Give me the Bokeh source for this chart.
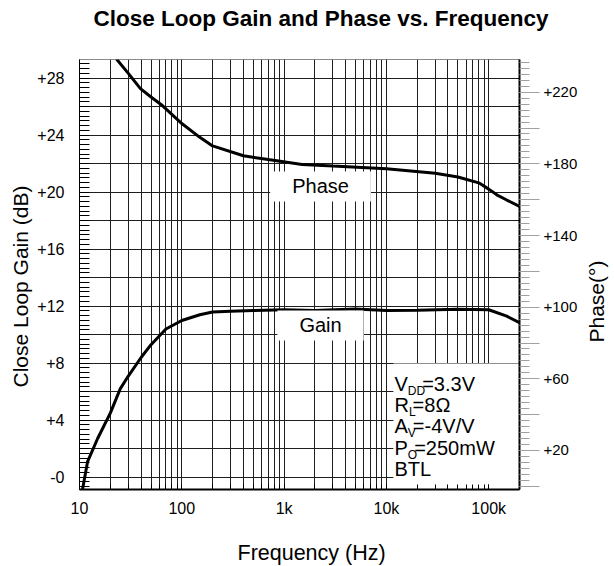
from bokeh.plotting import figure
from bokeh.layouts import row
from bokeh.models import Range1d, LinearAxis, FixedTicker, Label, BoxAnnotation, Grid, Title
from bokeh.embed import file_html
from bokeh.resources import INLINE

FONT = "Liberation Sans"

# ---------------- data ----------------
title_text = "Close Loop Gain and Phase vs. Frequency"
x_title = "Frequency (Hz)"
gain_title = "Close Loop Gain (dB)"
phase_title = "Phase(\u00b0)"

gain_freq = [10.7, 12, 15, 20, 25, 30, 40, 50, 70, 100, 150, 200, 300, 500,
             1000, 2000, 5000, 10000, 20000, 50000, 100000, 150000, 200000]
gain_db = [-0.86, 1.1, 2.7, 4.5, 6.2, 7.1, 8.4, 9.3, 10.4, 11.0, 11.4, 11.6, 11.65, 11.7,
           11.75, 11.7, 11.8, 11.7, 11.72, 11.78, 11.75, 11.3, 10.85]

phase_freq = [23, 30, 39.4, 50, 65, 100, 150, 200, 400, 700, 1500, 3000,
              10000, 30000, 50000, 80000, 100000, 120000, 150000, 200000]
phase_deg = [238.5, 230.5, 222, 217.3, 212.4, 202.5, 194.8, 190, 184.5, 182.4, 179.7, 178.8,
             177.3, 174.7, 172.7, 169.4, 165.9, 162.7, 159.8, 156.3]

x_tick_values = [10, 100, 1000, 10000, 100000]
x_tick_labels = ["10", "100", "1k", "10k", "100k"]

gain_tick_values = [0, 4, 8, 12, 16, 20, 24, 28]
gain_tick_labels = ["-0", "+4", "+8", "+12", "+16", "+20", "+24", "+28"]

phase_tick_values = [20, 60, 100, 140, 180, 220]
phase_tick_labels = ["+20", "+60", "+100", "+140", "+180", "+220"]

series_labels = ["Phase", "Gain"]

cond_main = ["V", "R", "A", "P", "BTL"]
cond_sub = ["DD", "L", "V", "O", ""]
cond_rest = ["=3.3V", "=8\u03a9", "=-4V/V", "=250mW", ""]

# ---------------- derived tick / grid positions ----------------
x_minor = [m * d for d in (10, 100, 1000, 10000, 100000) for m in range(1, 10)]
gain_grid = [2 * k for k in range(0, 15)]
gain_minor = [k / 3.0 for k in range(-2, 88)]
phase_long = [20 * k for k in range(0, 12)]
phase_minor = [k * 20 / 6.0 for k in range(0, 72)]
phase_all_labels = {v: "" for v in phase_long}
phase_all_labels.update(dict(zip(phase_tick_values, phase_tick_labels)))

p = figure(width=583, height=566, x_axis_type="log",
           x_range=Range1d(10, 200000), y_range=Range1d(-0.86, 29.31),
           output_backend="svg", toolbar_location=None,
           min_border_left=79, min_border_right=64, min_border_top=59, min_border_bottom=77,
           title=title_text)
p.background_fill_color = "white"
p.border_fill_color = "white"
p.outline_line_color = "#8a8a8a"
p.outline_line_width = 1

# title: outermost in the top panel, a thin spacer keeps it near the top edge
p.title.align = "left"
p.title.offset = 14
p.title.vertical_align = "top"
p.title.standoff = 0
p.title.text_font = FONT
p.title.text_font_size = "22.5px"
p.title.text_font_style = "bold"
p.title.text_color = "black"
p.add_layout(Title(text=" ", text_font_size="1px", standoff=24), "above")

# x axis
xa = p.xaxis[0]
xa.ticker = FixedTicker(ticks=x_tick_values, minor_ticks=x_minor)
xa.major_label_overrides = dict(zip(x_tick_values, x_tick_labels))
xa.major_label_text_font = FONT
xa.major_label_text_font_size = "16px"
xa.major_label_text_color = "black"
xa.major_label_standoff = 10
xa.major_tick_in = 5
xa.major_tick_out = 0
xa.minor_tick_in = 5
xa.minor_tick_out = 0
xa.axis_line_width = 2
xa.axis_line_color = "black"
xa.major_tick_line_color = "black"
xa.minor_tick_line_color = "black"

# x axis title (below the tick labels, slightly right of centre as in the original)
p.add_layout(Title(text=" ", text_font_size="1px", standoff=18), "below")
p.add_layout(Title(text=x_title, align="left", offset=158, vertical_align="top", standoff=0,
                   text_font=FONT, text_font_size="21.5px", text_font_style="normal",
                   text_color="black"), "below")

p.xgrid.grid_line_color = "#1e1e1e"
p.xgrid.grid_line_width = 1
p.xgrid.minor_grid_line_color = "#1e1e1e"
p.xgrid.minor_grid_line_width = 1

# left y axis (gain)
ya = p.yaxis[0]
ya.ticker = FixedTicker(ticks=gain_tick_values, minor_ticks=gain_minor)
ya.major_label_overrides = dict(zip(gain_tick_values, gain_tick_labels))
ya.major_label_text_font = FONT
ya.major_label_text_font_size = "16px"
ya.major_label_text_color = "black"
ya.major_label_standoff = 15
ya.major_tick_in = 10
ya.major_tick_out = 0
ya.minor_tick_in = 10
ya.minor_tick_out = 0
ya.axis_line_color = "black"
ya.major_tick_line_color = "black"
ya.minor_tick_line_color = "black"

p.add_layout(Title(text=gain_title, align="left", offset=102, vertical_align="middle", standoff=3,
                   text_font=FONT, text_font_size="21px", text_font_style="normal",
                   text_color="black"), "left")

p.ygrid.visible = False
hgrid = Grid(dimension=1, ticker=FixedTicker(ticks=gain_grid),
             grid_line_color="#1e1e1e", grid_line_width=1)
p.add_layout(hgrid)

# right y axis (phase)
p.extra_y_ranges = {"phase": Range1d(-1.77, 238.25)}
ra = LinearAxis(y_range_name="phase",
                ticker=FixedTicker(ticks=phase_long, minor_ticks=phase_minor))
ra.major_label_overrides = phase_all_labels
ra.major_label_text_font = FONT
ra.major_label_text_font_size = "15px"
ra.major_label_text_color = "black"
ra.major_label_standoff = 4
ra.major_tick_in = 0
ra.major_tick_out = 20
ra.minor_tick_in = 0
ra.minor_tick_out = 10
ra.axis_line_width = 2
ra.axis_line_color = "black"
ra.major_tick_line_color = "#a0a0a0"
ra.minor_tick_line_color = "#a0a0a0"
p.add_layout(ra, "right")

# white box behind the conditions text
cond_x = 12000
cond_y = 6.55
box = BoxAnnotation(left=11700, top=7.98, fill_color="white", fill_alpha=1.0,
                    line_color=None, level="underlay")
p.add_layout(box)

# curves
p.line(gain_freq, gain_db, line_width=3, line_color="black")
p.line(phase_freq, phase_deg, y_range_name="phase", line_width=3, line_color="black")

# series labels with white boxes
for txt, yy in zip(series_labels, [20.4, 10.65]):
    p.add_layout(Label(x=2270, y=yy, text=txt, text_align="center", text_baseline="middle",
                       text_font=FONT, text_font_size="20px", text_color="black",
                       background_fill_color="white", background_fill_alpha=1.0,
                       padding=(22, 4)))

# conditions text
ADV = {"V": 667, "R": 722, "A": 667, "P": 667, "D": 722, "L": 556, "O": 778}


def tw(s, size):
    return sum(ADV.get(c, 556) for c in s) * size / 1000.0


for i, (m, s, r) in enumerate(zip(cond_main, cond_sub, cond_rest)):
    yo = -21.25 * i
    p.add_layout(Label(x=cond_x, y=cond_y, y_offset=yo, text=m, text_font=FONT,
                       text_font_size="20px", text_baseline="alphabetic", text_color="black"))
    mw = tw(m, 20)
    if s:
        p.add_layout(Label(x=cond_x, y=cond_y, x_offset=mw, y_offset=yo - 7, text=s,
                           text_font=FONT, text_font_size="12px",
                           text_baseline="alphabetic", text_color="black"))
    if r:
        p.add_layout(Label(x=cond_x, y=cond_y, x_offset=mw + tw(s, 12) - 3, y_offset=yo,
                           text=r, text_font=FONT, text_font_size="20px",
                           text_baseline="alphabetic", text_color="black"))

# narrow strip on the right carrying the phase axis title (reads bottom to top)
p2 = figure(width=31, height=566, output_backend="svg", toolbar_location=None,
            x_axis_location=None, y_axis_location=None,
            min_border_left=0, min_border_right=0, min_border_top=59, min_border_bottom=77,
            title=phase_title, title_location="left")
p2.outline_line_color = None
p2.background_fill_color = "white"
p2.border_fill_color = "white"
for g in p2.grid:
    g.visible = False
p2.title.align = "left"
p2.title.offset = 147
p2.title.vertical_align = "middle"
p2.title.standoff = 0
p2.title.text_font = FONT
p2.title.text_font_size = "21px"
p2.title.text_font_style = "normal"
p2.title.text_color = "black"

layout = row(p, p2, spacing=0)

open("out.html", "w").write(file_html(layout, INLINE))
